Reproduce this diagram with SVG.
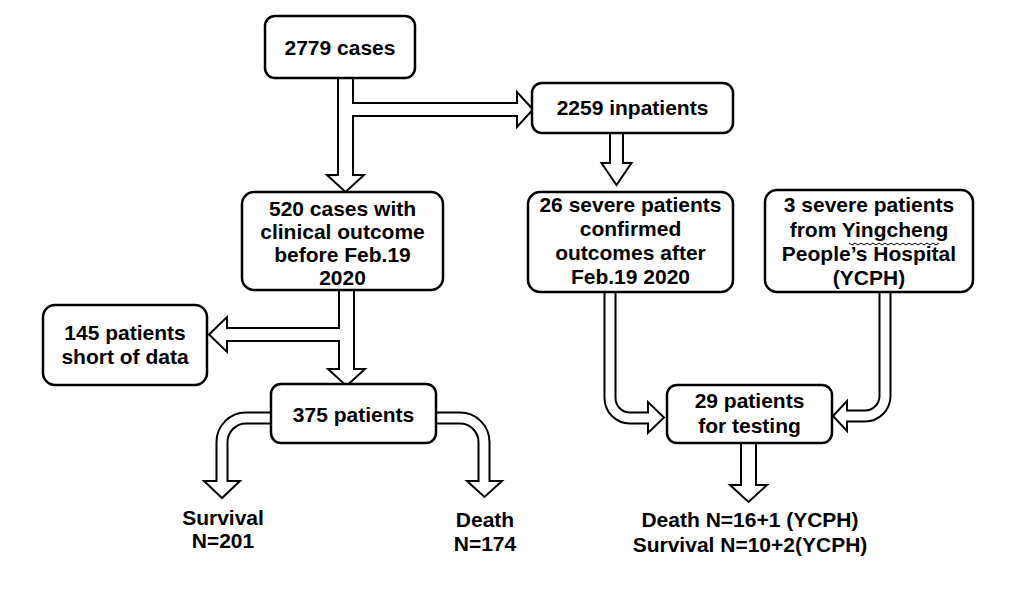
<svg xmlns="http://www.w3.org/2000/svg" width="1032" height="594" viewBox="0 0 1032 594">
<style>
.box{fill:#fff;stroke:#000;stroke-width:2.5}
.t{font-family:"Liberation Sans",Arial,sans-serif;font-weight:bold;font-size:21px;text-anchor:middle;fill:#000}
.sb{fill:none;stroke:#000}
.sw{fill:none;stroke:#fff}
.hd{fill:#fff;stroke:#000;stroke-width:2;stroke-linejoin:miter}
</style>
<rect width="1032" height="594" fill="#fff"/>
<g id="connectors">
  <!-- black outer strokes -->
  <path class="sb" stroke-width="17" d="M345.5,78 V176"/>
  <path class="sb" stroke-width="15" d="M345.5,109.5 H518"/>
  <path class="sb" stroke-width="15" d="M616.5,133 V164"/>
  <path class="sb" stroke-width="17" d="M346.5,290 V370"/>
  <path class="sb" stroke-width="15" d="M346.5,334.5 H226"/>
  <path class="sb" stroke-width="17" d="M748.5,443 V486"/>
  <path class="sb" stroke-width="13" d="M610,292 V398 A20,20 0 0 0 630,418 H649"/>
  <path class="sb" stroke-width="13" d="M885,292 V396 A20,20 0 0 1 865,416 H846"/>
  <path class="sb" stroke-width="13" d="M271,418 H246 A24,24 0 0 0 222,442 V482"/>
  <path class="sb" stroke-width="13" d="M436,418 H460 A24,24 0 0 1 484,442 V482"/>
  <!-- heads -->
  <polygon class="hd" points="327,175 364,175 345.5,192"/>
  <polygon class="hd" points="517,92 517,127 533,109.5"/>
  <polygon class="hd" points="601.5,163 631.5,163 616.5,185"/>
  <polygon class="hd" points="328,369 365,369 346.5,386"/>
  <polygon class="hd" points="227,317 227,352 209,334.5"/>
  <polygon class="hd" points="730,485 767,485 748.5,502"/>
  <polygon class="hd" points="648,402 648,433 664,417.5"/>
  <polygon class="hd" points="847,401 847,431 833,416"/>
  <polygon class="hd" points="204,481 240,481 222,498"/>
  <polygon class="hd" points="467,481 502,481 484.5,497"/>
  <!-- white inner strokes -->
  <path class="sw" stroke-width="13" d="M345.5,78 V177"/>
  <path class="sw" stroke-width="11" d="M345.5,109.5 H519"/>
  <path class="sw" stroke-width="11" d="M616.5,133 V165"/>
  <path class="sw" stroke-width="13" d="M346.5,290 V371"/>
  <path class="sw" stroke-width="11" d="M346.5,334.5 H225"/>
  <path class="sw" stroke-width="13" d="M748.5,443 V487"/>
  <path class="sw" stroke-width="9" d="M610,292 V398 A20,20 0 0 0 630,418 H650"/>
  <path class="sw" stroke-width="9" d="M885,292 V396 A20,20 0 0 1 865,416 H845"/>
  <path class="sw" stroke-width="9" d="M271,418 H246 A24,24 0 0 0 222,442 V483"/>
  <path class="sw" stroke-width="9" d="M436,418 H460 A24,24 0 0 1 484,442 V483"/>
</g>
<g id="n2779">
  <rect class="box" x="265" y="16" width="150" height="62" rx="10"/>
  <text class="t" x="340" y="55">2779 cases</text>
</g>
<g id="n2259">
  <rect class="box" x="532" y="83" width="201" height="50" rx="10"/>
  <text class="t" x="632.5" y="115">2259 inpatients</text>
</g>
<g id="n520">
  <rect class="box" x="242" y="192" width="201" height="98" rx="12"/>
  <text class="t" x="342.5" y="216">520 cases with</text>
  <text class="t" x="342.5" y="239">clinical outcome</text>
  <text class="t" x="342.5" y="262">before Feb.19</text>
  <text class="t" x="342.5" y="285">2020</text>
</g>
<g id="n26">
  <rect class="box" x="528" y="192" width="205" height="100" rx="12"/>
  <text class="t" x="630.5" y="212">26 severe patients</text>
  <text class="t" x="630.5" y="236">confirmed</text>
  <text class="t" x="630.5" y="260">outcomes after</text>
  <text class="t" x="630.5" y="284">Feb.19 2020</text>
</g>
<g id="n3">
  <rect class="box" x="765" y="190" width="208" height="102" rx="12"/>
  <text class="t" x="869" y="212">3 severe patients</text>
  <text class="t" x="869" y="237">from Yingcheng</text>
  <text class="t" x="869" y="261">People’s Hospital</text>
  <text class="t" x="869" y="285">(YCPH)</text>
  <path fill="none" stroke="#000" stroke-width="1" d="M849,243 l3,2 l3,-2 l3,2 l3,-2 l3,2 l3,-2 l3,2 l3,-2 l3,2 l3,-2 l3,2 l3,-2 l3,2 l3,-2 l3,2 l3,-2 l3,2 l3,-2 l3,2 l3,-2 l3,2 l3,-2 l3,2 l3,-2 l3,2 l3,-2 l3,2 l3,-2 l3,2 l3,-2"/>
</g>
<g id="n145">
  <rect class="box" x="43" y="305" width="164" height="80" rx="12"/>
  <text class="t" x="125" y="340">145 patients</text>
  <text class="t" x="125" y="364">short of data</text>
</g>
<g id="n375">
  <rect class="box" x="271" y="384" width="165" height="59" rx="10"/>
  <text class="t" x="353.5" y="422">375 patients</text>
</g>
<g id="n29">
  <rect class="box" x="667" y="385" width="165" height="58" rx="10"/>
  <text class="t" x="749.5" y="408">29 patients</text>
  <text class="t" x="749.5" y="433">for testing</text>
</g>
<g id="outSurvival">
  <text class="t" x="223" y="525">Survival</text>
  <text class="t" x="223" y="548">N=201</text>
</g>
<g id="outDeath">
  <text class="t" x="485" y="527">Death</text>
  <text class="t" x="485" y="551">N=174</text>
</g>
<g id="outTesting">
  <text class="t" x="750" y="527">Death N=16+1 (YCPH)</text>
  <text class="t" x="750" y="552">Survival N=10+2(YCPH)</text>
</g>
</svg>
